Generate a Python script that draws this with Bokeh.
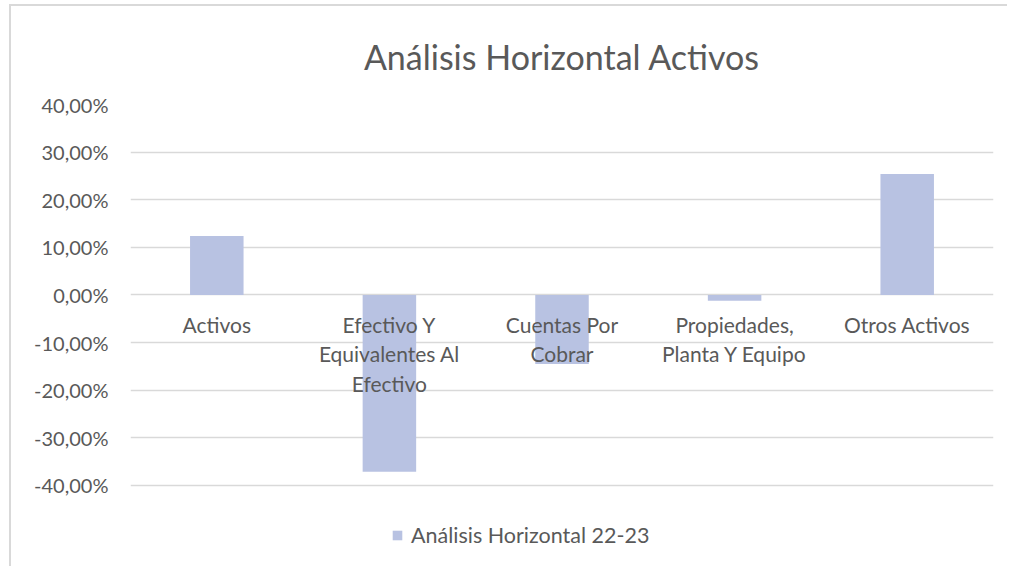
from bokeh.plotting import figure
from bokeh.models import ColumnDataSource, Range1d, FactorRange, CustomJSTickFormatter, FixedTicker, Legend, LegendItem
from bokeh.core.properties import value
from bokeh.embed import file_html
from bokeh.resources import INLINE

categories = ["Activos", "Efectivo Y Equivalentes Al Efectivo", "Cuentas Por Cobrar",
              "Propiedades, Planta Y Equipo", "Otros Activos"]
label_lines = ["Activos", "Efectivo Y\nEquivalentes Al\nEfectivo", "Cuentas Por\nCobrar",
               "Propiedades,\nPlanta Y Equipo", "Otros Activos"]
values = [0.124, -0.371, -0.145, -0.012, 0.254]
y_ticks = [-0.4, -0.3, -0.2, -0.1, 0.0, 0.1, 0.2, 0.3, 0.4]
series_name = "Análisis Horizontal 22-23"
title_text = "Análisis Horizontal Activos"

FONT = "Lato"
GRAY = "#595959"
BAR = "#B8C2E2"

src = ColumnDataSource(dict(cat=categories, val=values, lab=label_lines, zero=[0.0] * len(values)))

# frame extends below the -40% line to host the legend (Excel-style bottom legend)
p = figure(width=998, height=562, output_backend="svg", toolbar_location=None,
           x_range=FactorRange(*categories, range_padding=0.0),
           y_range=Range1d(-0.5617, 0.4),
           min_border_left=119, min_border_right=16, min_border_top=98, min_border_bottom=6)
p.outline_line_color = None
p.background_fill_color = "white"
p.border_fill_color = "white"

r = p.vbar(x="cat", top="val", bottom=0, width=0.31, source=src, fill_color=BAR, line_color=None)

p.text(x="cat", y="zero", text="lab", source=src, text_align="center", text_baseline="top",
       y_offset=17, text_font=value(FONT), text_font_size="21px", text_color=GRAY,
       text_line_height=1.18)

p.xaxis.visible = False
p.xgrid.visible = False
p.ygrid.grid_line_color = "#D9D9D9"
p.ygrid.grid_line_width = 1.5
p.yaxis.ticker = FixedTicker(ticks=y_ticks)
p.yaxis.formatter = CustomJSTickFormatter(code="""
    return (tick*100).toFixed(2).replace('.', ',') + '%';
""")
p.yaxis.axis_line_color = None
p.yaxis.major_tick_line_color = None
p.yaxis.minor_tick_line_color = None
p.yaxis.major_label_text_font = FONT
p.yaxis.major_label_text_font_size = "20px"
p.yaxis.major_label_text_color = GRAY
p.yaxis.major_label_standoff = 16

p.title.text = title_text
p.title.align = "center"
p.title.vertical_align = "top"
p.title.text_font = FONT
p.title.text_font_style = "normal"
p.title.text_font_size = "34px"
p.title.text_color = GRAY
p.title.standoff = 52

legend = Legend(items=[LegendItem(label=series_name, renderers=[r])],
                location=(261, 14), orientation="horizontal",
                label_text_font=FONT, label_text_font_size="21.5px", label_text_color=GRAY,
                glyph_width=12, glyph_height=12, border_line_color=None,
                background_fill_alpha=0, padding=0, margin=0, label_standoff=8)
p.add_layout(legend, "center")

p.styles = {"border-left": "2px solid #D9D9D9", "border-top": "2px solid #D9D9D9",
            "margin-left": "9px", "margin-top": "4px"}

open("out.html", "w").write(file_html(p, INLINE))
